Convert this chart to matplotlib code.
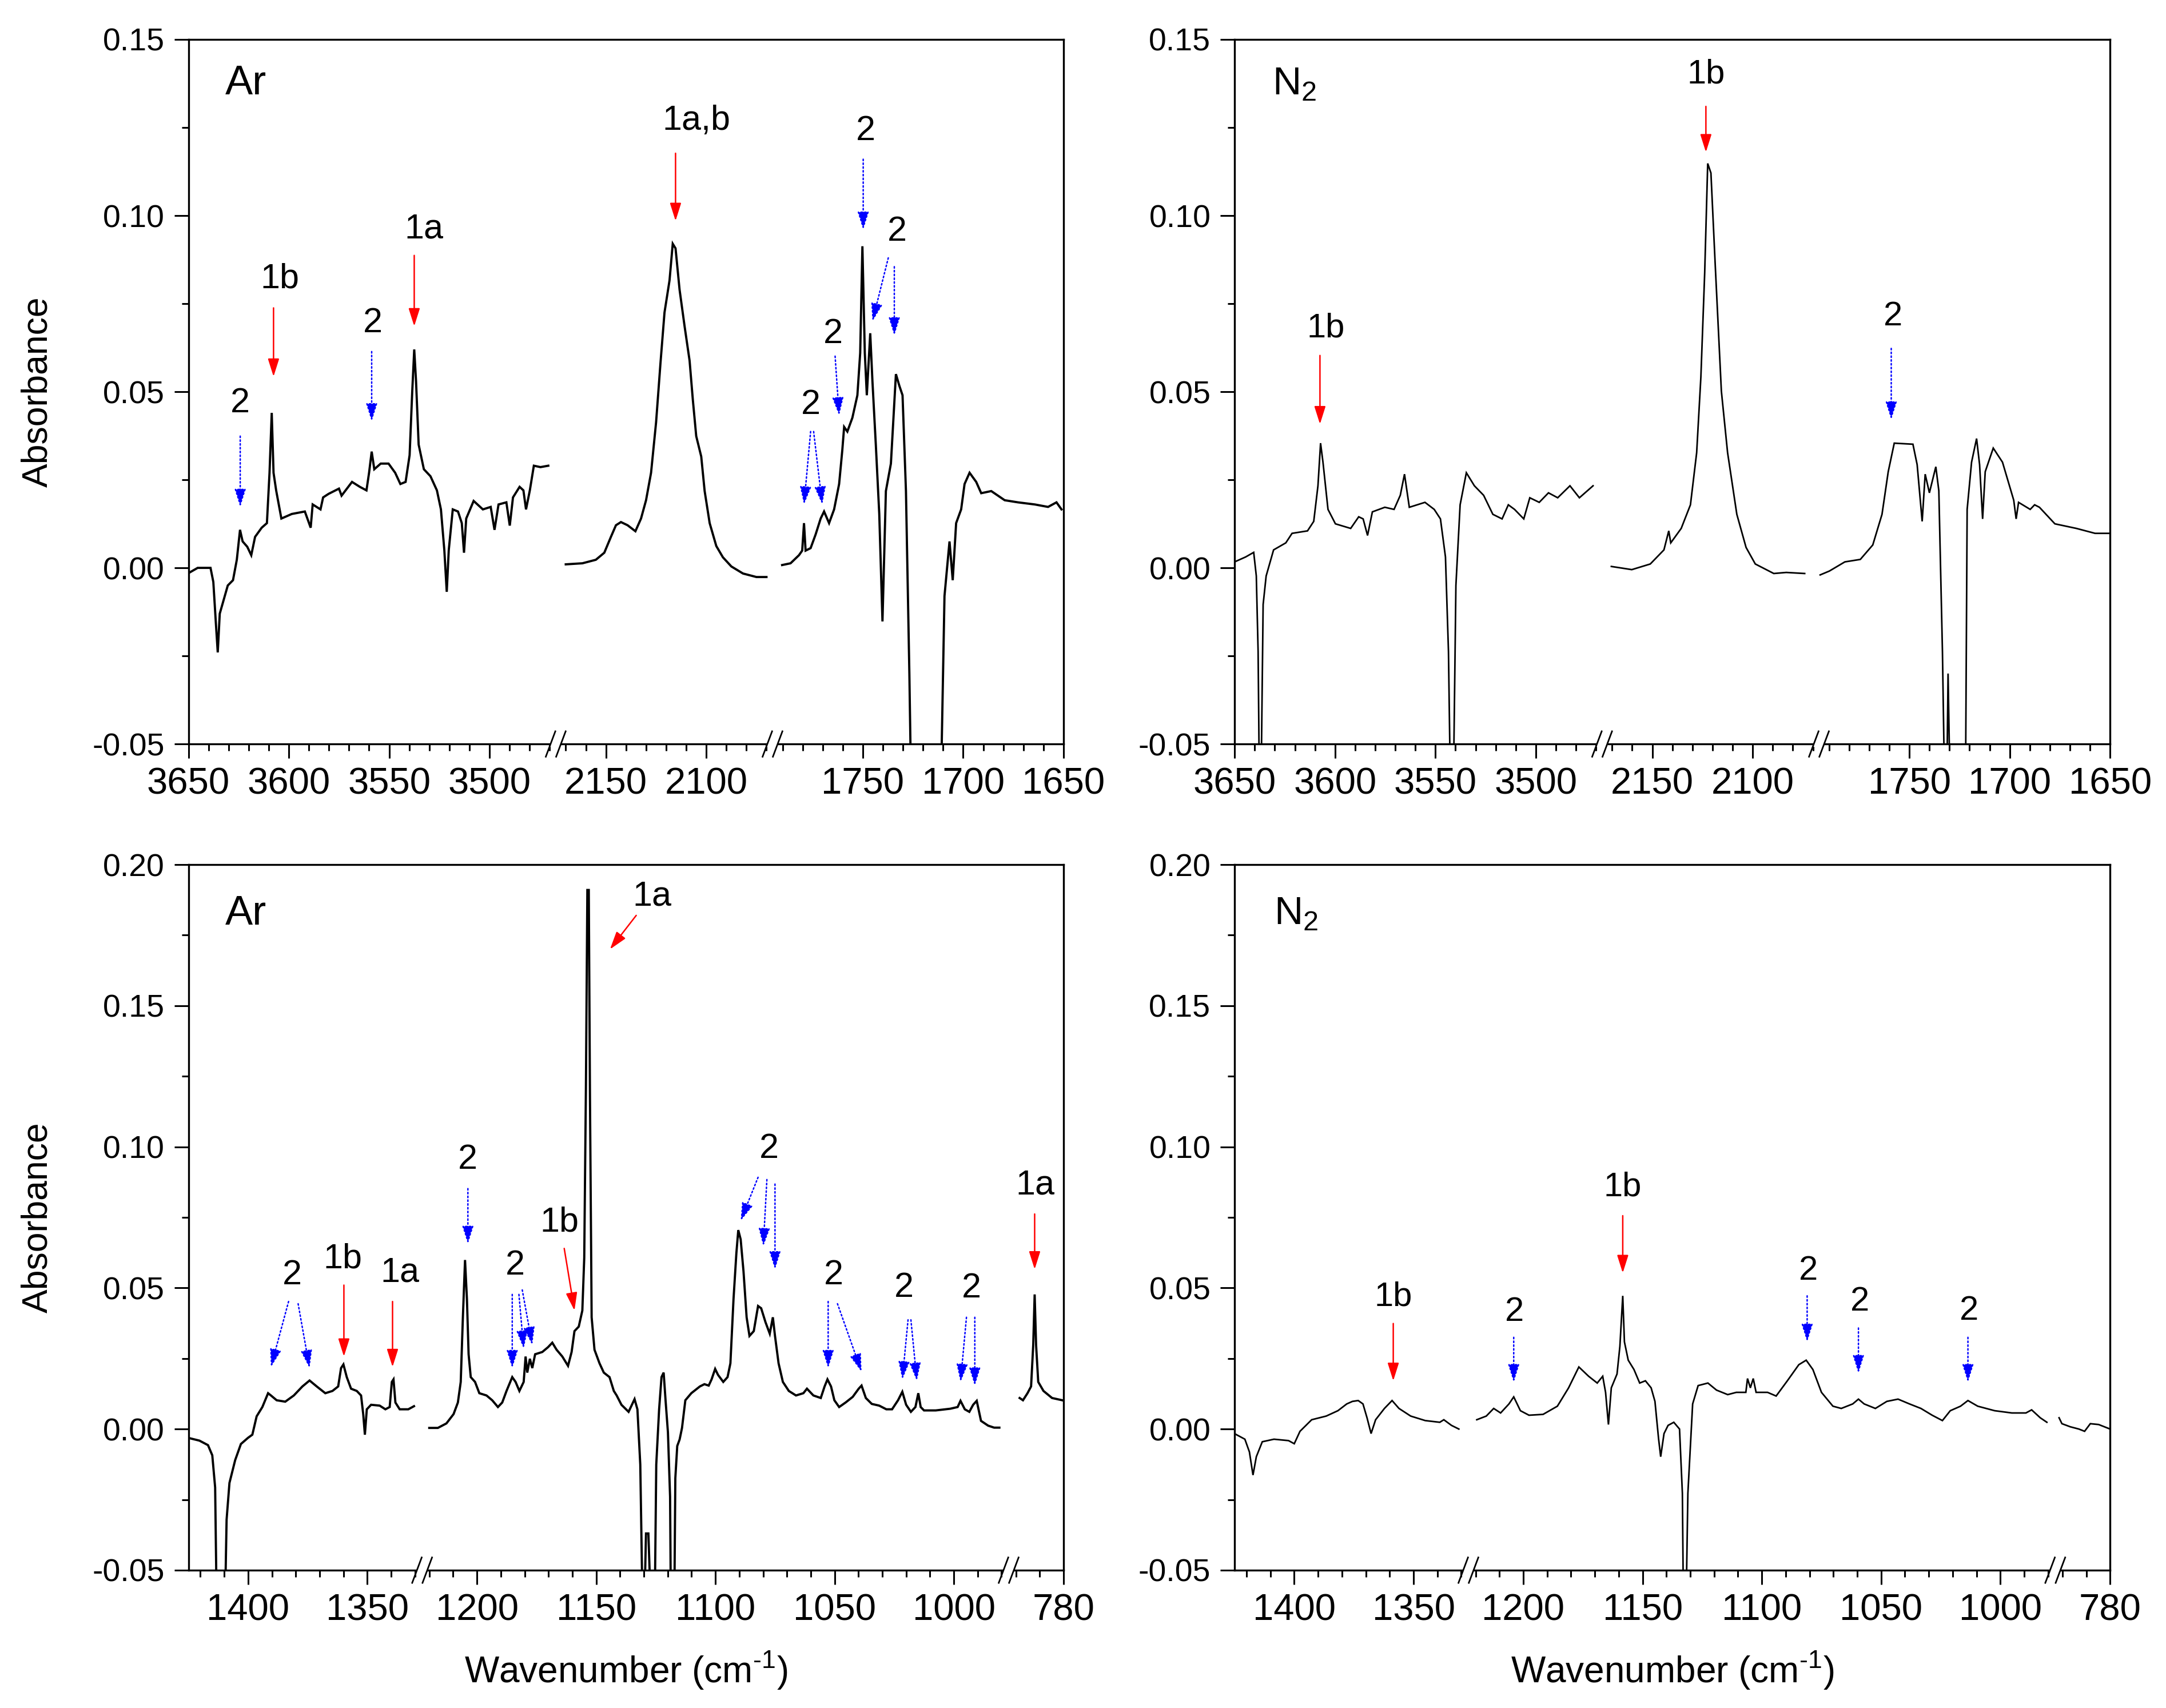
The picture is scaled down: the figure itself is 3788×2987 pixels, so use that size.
import numpy as np
import matplotlib
matplotlib.use('Agg')
import matplotlib.pyplot as plt
from matplotlib.ticker import FixedLocator, MultipleLocator, FormatStrFormatter

plt.rcParams['font.family'] = ['Liberation Sans', 'DejaVu Sans']
plt.rcParams['mathtext.fontset'] = 'custom'
plt.rcParams['mathtext.rm'] = 'Liberation Sans'
plt.rcParams['axes.unicode_minus'] = False

# --- broken x-axis segments (wavenumber, high -> low) ---
HI_SEGS = [(3650, 3467), (2175, 2067), (1795, 1650)]
LO_SEGS = [(1425, 1327), (1223, 977), (803, 780)]
HI_MAJOR = [3650, 3600, 3550, 3500, 2150, 2100, 1750, 1700, 1650]
LO_MAJOR = [1400, 1350, 1200, 1150, 1100, 1050, 1000, 780]

# --- Ar matrix, OH / C=O region (wavenumber, absorbance) ---
ar_hi_1 = [(3650, -0.0015), (3645.4, 0.0), (3639, 0.0), (3637.6, -0.004), (3636.3, -0.016),
           (3635.4, -0.024), (3634.4, -0.013), (3632.4, -0.009), (3630.4, -0.005), (3627.8, -0.0035),
           (3625.9, 0.0023), (3624.3, 0.0108), (3623.0, 0.0075), (3620.7, 0.006), (3618.7, 0.0036),
           (3616.8, 0.0088), (3613.5, 0.0114), (3610.9, 0.0127), (3609.6, 0.027), (3608.5, 0.044),
           (3607.6, 0.027), (3606.3, 0.022), (3603.7, 0.014), (3598.5, 0.0153), (3592.0, 0.016),
           (3589.1, 0.0114), (3588.1, 0.018), (3584.2, 0.0166), (3582.9, 0.020), (3580.2, 0.021),
           (3575.0, 0.0225), (3573.7, 0.0205), (3568.5, 0.0244), (3564.6, 0.023), (3561.3, 0.022),
           (3560.0, 0.027), (3558.7, 0.033), (3557.4, 0.028), (3554.2, 0.0296), (3550.3, 0.0296),
           (3547.0, 0.027), (3544.4, 0.0238), (3541.8, 0.0244), (3539.8, 0.032), (3538.5, 0.050),
           (3537.5, 0.062), (3536.6, 0.053), (3535.3, 0.035), (3532.7, 0.028), (3529.4, 0.026),
           (3526.2, 0.022), (3524.2, 0.0166), (3522.5, 0.005), (3521.3, -0.0068), (3520.3, 0.005),
           (3518.3, 0.0166), (3515.7, 0.016), (3513.8, 0.0127), (3512.7, 0.0043), (3511.6, 0.014),
           (3507.9, 0.019), (3503.3, 0.0166), (3499.4, 0.0173), (3497.5, 0.0108), (3495.5, 0.018),
           (3491.6, 0.0186), (3489.9, 0.012), (3488.3, 0.020), (3485.0, 0.023), (3483.1, 0.022),
           (3481.8, 0.0166), (3479.9, 0.022), (3477.9, 0.029), (3474.6, 0.0286), (3470.7, 0.029)]
ar_hi_2 = [(2170, 0.001), (2161.7, 0.0013), (2155, 0.0023), (2150.8, 0.0043), (2147.5, 0.0088),
           (2145, 0.0121), (2142.5, 0.013), (2139.2, 0.0121), (2135.3, 0.0104), (2132.5, 0.014),
           (2130, 0.0192), (2127.5, 0.027), (2125, 0.0413), (2122.8, 0.0582), (2120.8, 0.0725),
           (2118.3, 0.0816), (2116.7, 0.092), (2115.3, 0.0907), (2113.3, 0.079), (2110.8, 0.0686),
           (2108.3, 0.0588), (2106.7, 0.0478), (2105, 0.0374), (2102.5, 0.0316), (2100.8, 0.0218),
           (2098.3, 0.0127), (2095, 0.0062), (2091.7, 0.003), (2087.5, 0.0004), (2081.7, -0.0016),
           (2075, -0.0026), (2070, -0.0026)]
ar_hi_3 = [(1790.2, 0.0008), (1786, 0.0013), (1781.8, 0.0036), (1780.2, 0.0049), (1779.3, 0.0127),
           (1778.5, 0.0049), (1776, 0.0056), (1773.5, 0.0095), (1771, 0.014), (1769.3, 0.016),
           (1766.8, 0.0127), (1764.3, 0.0166), (1761.8, 0.0238), (1760.2, 0.0335), (1759.3, 0.040),
           (1757.7, 0.0387), (1755.2, 0.0426), (1752.7, 0.049), (1751.3, 0.061), (1750.2, 0.0913),
           (1749, 0.061), (1748, 0.049), (1746.3, 0.0666), (1745.2, 0.053), (1743.5, 0.0348),
           (1741.8, 0.0153), (1740.2, -0.0152), (1738.5, 0.0218), (1736, 0.0296), (1733.5, 0.055),
           (1731.8, 0.0517), (1730.2, 0.049), (1728.5, 0.0218), (1726.8, -0.030), (1726, -0.06),
           (1711, -0.06), (1709.3, -0.008), (1706.8, 0.0075), (1705.2, -0.0035), (1703.5, 0.0127),
           (1701, 0.0166), (1699.3, 0.0238), (1696.8, 0.027), (1693.5, 0.0244), (1691, 0.0212),
           (1686, 0.0218), (1679.3, 0.0192), (1672.7, 0.0186), (1664.3, 0.018), (1657.7, 0.0173),
           (1653.5, 0.0186), (1651, 0.0166)]

# --- N2 matrix, OH / C=O region ---
n2_hi_1 = [(3650, 0.0017), (3644.5, 0.0031), (3640.5, 0.0044), (3639.2, -0.0023), (3638.3, -0.0238),
           (3637.7, -0.06), (3636.8, -0.06), (3635.8, -0.0104), (3634.3, -0.0023), (3630.6, 0.0051),
           (3624.5, 0.0071), (3621.4, 0.0098), (3613.7, 0.0105), (3610.6, 0.0132), (3608.5, 0.0233),
           (3607.2, 0.0354), (3606, 0.030), (3603.5, 0.0166), (3599.8, 0.0125), (3592.2, 0.0112),
           (3588.2, 0.0145), (3586, 0.0139), (3583.8, 0.0092), (3581.4, 0.0159), (3575.2, 0.0172),
           (3570.6, 0.0166), (3567.5, 0.0206), (3565.4, 0.0266), (3563, 0.0172), (3555.2, 0.0186),
           (3550.6, 0.0166), (3547.5, 0.0139), (3545, 0.0031), (3543.5, -0.0238), (3542.6, -0.06),
           (3541, -0.06), (3539.8, -0.005), (3537.7, 0.0179), (3534.6, 0.027), (3530.6, 0.0233),
           (3526, 0.0206), (3521.4, 0.0152), (3516.8, 0.0139), (3513.7, 0.0179), (3510.6, 0.0166),
           (3506, 0.0139), (3503, 0.0199), (3498.3, 0.0186), (3493.7, 0.0213), (3489.1, 0.0199),
           (3483, 0.0233), (3478.3, 0.0199), (3471.5, 0.0233)]
n2_hi_2 = [(2170.4, 0.0004), (2160.2, -0.0005), (2151, 0.0011), (2144.2, 0.0051), (2141.8, 0.0105),
           (2140.8, 0.0071), (2135.6, 0.0112), (2131, 0.0179), (2127.9, 0.0327), (2125.8, 0.0542),
           (2123.9, 0.0838), (2122.4, 0.1148), (2120.8, 0.1121), (2118.7, 0.0865), (2115.6, 0.0502),
           (2112.5, 0.0327), (2107.9, 0.0152), (2103.3, 0.0058), (2098.7, 0.0011), (2089.5, -0.0016),
           (2083.3, -0.0013), (2074.1, -0.0016)]
n2_hi_3 = [(1794.4, -0.002), (1789.8, -0.0009), (1782.1, 0.0017), (1774.4, 0.0024), (1768.2, 0.0065),
           (1763.6, 0.0152), (1760.5, 0.0273), (1757.5, 0.0354), (1748.2, 0.0351), (1746.1, 0.0293),
           (1743.6, 0.0132), (1742.1, 0.0266), (1740, 0.0213), (1736.8, 0.0287), (1735.3, 0.0219),
           (1733.5, -0.0238), (1732.5, -0.06), (1731.3, -0.06), (1730.7, -0.03), (1729.8, -0.06),
           (1722, -0.06), (1721.2, 0.0166), (1719, 0.030), (1716.5, 0.0367), (1715, 0.0293),
           (1713.5, 0.0139), (1712.2, 0.0273), (1708.2, 0.034), (1703.6, 0.030), (1698, 0.0192),
           (1696.8, 0.0139), (1695.6, 0.0186), (1689.8, 0.0166), (1687.6, 0.0179), (1685.2, 0.0172),
           (1677.5, 0.0125), (1666.8, 0.0112), (1657.5, 0.0098), (1650, 0.0098)]

# --- Ar matrix, fingerprint region ---
ar_lo_1 = [(1425.2, -0.0031), (1420.4, -0.0041), (1416.8, -0.0057), (1415.0, -0.0093), (1413.8, -0.0207),
           (1413.2, -0.06), (1409.6, -0.06), (1409.0, -0.0321), (1407.8, -0.0191), (1405.4, -0.011),
           (1403.0, -0.0053), (1400.0, -0.0031), (1398.2, -0.002), (1396.4, 0.0045), (1394.0, 0.0078),
           (1391.6, 0.0127), (1390.4, 0.0119), (1388.0, 0.0102), (1384.4, 0.0097), (1380.8, 0.0119),
           (1377.2, 0.0151), (1374.2, 0.0172), (1371.2, 0.0151), (1367.6, 0.0127), (1364.6, 0.0135),
           (1362.2, 0.0151), (1361.0, 0.0216), (1360.0, 0.0229), (1358.6, 0.0184), (1356.8, 0.0143),
           (1354.4, 0.0135), (1352.6, 0.0119), (1351.7, 0.0053), (1351.0, -0.002), (1350.2, 0.007),
           (1348.4, 0.0086), (1344.8, 0.0083), (1342.4, 0.007), (1340.6, 0.0078), (1339.7, 0.0167),
           (1339.0, 0.0176), (1338.2, 0.0094), (1336.4, 0.007), (1332.8, 0.007), (1330.4, 0.0081)]
ar_lo_2 = [(1220.0, 0.0004), (1216.4, 0.0004), (1212.8, 0.002), (1209.8, 0.0053), (1208.0, 0.0094),
           (1206.8, 0.0167), (1205.9, 0.0396), (1205.0, 0.0599), (1204.2, 0.046), (1203.5, 0.0265),
           (1202.6, 0.0184), (1200.8, 0.0167), (1199.0, 0.0127), (1196.0, 0.0119), (1193.6, 0.0102),
           (1191.2, 0.0078), (1189.4, 0.0094), (1187.6, 0.0135), (1185.2, 0.0184), (1183.8, 0.0167),
           (1182.2, 0.0135), (1180.4, 0.0167), (1179.6, 0.0257), (1178.9, 0.020), (1177.8, 0.0249),
           (1176.8, 0.0216), (1175.6, 0.0265), (1172.6, 0.0273), (1170.2, 0.029), (1168.4, 0.0306),
           (1166.6, 0.0281), (1164.2, 0.0257), (1161.8, 0.0224), (1160.3, 0.0273), (1159.1, 0.0347),
           (1157.3, 0.0363), (1155.8, 0.042), (1155.0, 0.0607), (1154.3, 0.121), (1153.7, 0.191),
           (1153.1, 0.191), (1152.6, 0.1177), (1151.9, 0.0396), (1150.7, 0.0281), (1148.6, 0.0233),
           (1146.8, 0.020), (1144.4, 0.0184), (1142.6, 0.0135), (1141.4, 0.0119), (1139.4, 0.0086),
           (1136.4, 0.0061), (1133.9, 0.0106), (1132.7, 0.007), (1131.5, -0.0126), (1130.6, -0.06),
           (1129.7, -0.06), (1129.1, -0.037), (1128.1, -0.037), (1127.2, -0.06), (1125.4, -0.06),
           (1124.8, -0.0126), (1123.6, 0.007), (1122.6, 0.0184), (1121.7, 0.020), (1120.9, 0.0102),
           (1119.9, -0.0012), (1119.0, -0.024), (1118.7, -0.06), (1117.2, -0.06), (1116.8, -0.0174),
           (1116.0, -0.006), (1115.0, -0.0037), (1114.0, 0.0004), (1112.6, 0.0102), (1110.1, 0.0127),
           (1106.5, 0.0151), (1104.6, 0.0159), (1102.8, 0.0154), (1101.6, 0.0176), (1100.1, 0.0213),
           (1098.9, 0.0192), (1096.7, 0.0167), (1094.9, 0.0184), (1093.7, 0.0233), (1092.4, 0.046),
           (1091.2, 0.0623), (1090.4, 0.0705), (1089.4, 0.0672), (1088.2, 0.0558), (1086.9, 0.0396),
           (1085.7, 0.033), (1083.9, 0.0347), (1082.1, 0.0436), (1080.8, 0.0428), (1079.0, 0.0379),
           (1077.2, 0.0338), (1075.9, 0.0396), (1075.0, 0.033), (1073.5, 0.0233), (1071.7, 0.0167),
           (1069.2, 0.0135), (1066.2, 0.0119), (1063.1, 0.0127), (1061.6, 0.0143), (1058.9, 0.0119),
           (1055.8, 0.011), (1054.2, 0.0151), (1053.0, 0.0176), (1051.5, 0.0151), (1050.1, 0.0102),
           (1048.1, 0.0078), (1045.4, 0.0094), (1042.4, 0.0114), (1039.9, 0.0143), (1038.7, 0.0154),
           (1036.9, 0.011), (1034.4, 0.0089), (1031.3, 0.0083), (1028.3, 0.007), (1025.9, 0.007),
           (1023.4, 0.0102), (1021.6, 0.0132), (1020.0, 0.0086), (1018.0, 0.0061), (1016.1, 0.0078),
           (1014.9, 0.0127), (1013.9, 0.0078), (1012.5, 0.0066), (1007.6, 0.0066), (1001.5, 0.0072),
           (998.4, 0.0078), (997.2, 0.010), (995.4, 0.007), (993.5, 0.0061), (991.9, 0.0086),
           (990.4, 0.010), (988.6, 0.0029), (985.6, 0.0012), (983.1, 0.0005), (980.9, 0.0005)]
ar_lo_3 = [(798.4, 0.011), (797.0, 0.0102), (795.1, 0.0127), (793.6, 0.0151), (792.7, 0.0298),
           (792.1, 0.0477), (791.5, 0.0298), (790.6, 0.0167), (788.4, 0.0135), (784.8, 0.011),
           (780.5, 0.0102)]

# --- N2 matrix, fingerprint region ---
n2_lo_1 = [(1425.1, -0.0016), (1420.7, -0.0036), (1418.8, -0.0081), (1417.3, -0.0163), (1415.9, -0.0098),
           (1413.4, -0.0045), (1408.5, -0.0036), (1402.4, -0.0041), (1400.0, -0.0052), (1397.6, -0.0008),
           (1392.7, 0.0033), (1386.6, 0.0046), (1381.7, 0.0065), (1378.0, 0.0089), (1375.6, 0.0098),
           (1373.2, 0.0101), (1371.2, 0.0089), (1369.5, 0.004), (1367.8, -0.0016), (1365.9, 0.0033),
           (1362.2, 0.0073), (1359.0, 0.0101), (1356.1, 0.0073), (1351.2, 0.0046), (1345.1, 0.003),
           (1339.0, 0.0024), (1337.3, 0.0033), (1334.1, 0.0013), (1331.0, 0.0)]
n2_lo_2 = [(1219.5, 0.0033), (1215.5, 0.0046), (1212.4, 0.0073), (1209.5, 0.0057), (1206.0, 0.0089),
           (1204.0, 0.0114), (1201.2, 0.0065), (1197.6, 0.0049), (1191.7, 0.0052), (1185.7, 0.0081),
           (1181.0, 0.0146), (1176.7, 0.022), (1172.6, 0.0187), (1169.0, 0.0163), (1166.7, 0.0187),
           (1165.5, 0.013), (1164.3, 0.0016), (1163.1, 0.0146), (1160.7, 0.0195), (1159.5, 0.0293),
           (1158.3, 0.0472), (1157.6, 0.0309), (1156.0, 0.0244), (1153.6, 0.0211), (1151.2, 0.0163),
           (1148.8, 0.0171), (1146.4, 0.0146), (1144.8, 0.0098), (1143.3, -0.0033), (1142.4, -0.0098),
           (1141.0, -0.0016), (1139.3, 0.0013), (1136.9, 0.0024), (1134.5, 0.0), (1133.3, -0.0228),
           (1132.9, -0.06), (1131.7, -0.06), (1131.0, -0.0228), (1129.0, 0.0089), (1126.7, 0.0154),
           (1122.6, 0.0163), (1119.0, 0.0138), (1114.3, 0.0122), (1110.7, 0.013), (1106.7, 0.013),
           (1106.0, 0.0179), (1104.8, 0.0146), (1103.6, 0.0179), (1102.4, 0.013), (1097.6, 0.013),
           (1094.0, 0.0117), (1089.3, 0.0171), (1084.5, 0.0228), (1081.4, 0.0244), (1078.6, 0.0211),
           (1075.0, 0.013), (1070.2, 0.0081), (1066.7, 0.0073), (1061.9, 0.0089), (1059.5, 0.0106),
           (1057.1, 0.0089), (1052.4, 0.0073), (1047.6, 0.0098), (1042.9, 0.0106), (1038.1, 0.0089),
           (1033.3, 0.0073), (1028.6, 0.0049), (1024.3, 0.003), (1021.0, 0.0065), (1016.7, 0.0081),
           (1013.6, 0.0101), (1009.5, 0.0081), (1002.4, 0.0065), (995.2, 0.0057), (989.3, 0.0057),
           (986.9, 0.0068), (983.3, 0.004), (980.5, 0.0024)]
n2_lo_3 = [(801.4, 0.004), (800.2, 0.0019), (796.7, 0.0008), (793.1, 0.0), (790.7, -0.0008),
           (788.3, 0.0019), (784.8, 0.0016), (780.0, 0.0)]

# --- band labels (text, wavenumber, absorbance) ---
ar_hi_labels = [('2', 3624.2, 0.0478), ('1b', 3604.4, 0.083), ('2', 3558.1, 0.0705), ('1a', 3532.7, 0.0972),
                ('1a,b', 2105, 0.128), ('2', 1776, 0.0472), ('2', 1764.7, 0.0673), ('2', 1748.5, 0.125),
                ('2', 1733, 0.0965)]
n2_hi_labels = [('1b', 3604.5, 0.069), ('1b', 2123.3, 0.141), ('2', 1758, 0.0724)]
ar_lo_labels = [('2', 1381.4, 0.0558), ('1b', 1360.4, 0.0615), ('1a', 1336.4, 0.0566), ('2', 1203.8, 0.0966),
                ('2', 1184.0, 0.0591), ('1b', 1165.4, 0.0745), ('1a', 1126.6, 0.190), ('2', 1077.4, 0.1006),
                ('2', 1050.3, 0.0558), ('2', 1021.0, 0.0513), ('2', 992.6, 0.051), ('1a', 791.8, 0.0876)]
n2_lo_labels = [('1b', 1358.5, 0.048), ('2', 1203.6, 0.0426), ('1b', 1158.3, 0.087), ('2', 1080.5, 0.0572),
                ('2', 1058.8, 0.0463), ('2', 1013.1, 0.0431)]

# --- arrows (from wn, from A, to wn, to A, kind) r = species 1, b = species 2 ---
ar_hi_arrows = [(3624.2, 0.0374, 3624.2, 0.0173, 'b'), (3607.6, 0.0738, 3607.6, 0.0543, 'r'),
                (3558.7, 0.0614, 3558.7, 0.0416, 'b'), (3537.5, 0.0887, 3537.5, 0.0686, 'r'),
                (2115.3, 0.1177, 2115.3, 0.0985, 'r'), (1776.0, 0.0387, 1779.3, 0.018, 'b'),
                (1774.5, 0.0387, 1770.2, 0.018, 'b'), (1763.8, 0.0601, 1761.8, 0.0433, 'b'),
                (1749.8, 0.116, 1749.8, 0.096, 'b'), (1737.3, 0.088, 1745.2, 0.070, 'b'),
                (1734.3, 0.0855, 1734.3, 0.066, 'b')]
n2_hi_arrows = [(3607.5, 0.0603, 3607.5, 0.0408, 'r'), (2123.3, 0.131, 2123.3, 0.118, 'r'),
                (1759, 0.0623, 1759, 0.0421, 'b')]
ar_lo_arrows = [(1383, 0.0452, 1390.4, 0.022, 'b'), (1379, 0.0444, 1374.2, 0.0216, 'b'),
                (1359.8, 0.051, 1359.8, 0.0257, 'r'), (1339.4, 0.0452, 1339.4, 0.022, 'r'),
                (1203.8, 0.0852, 1203.8, 0.0656, 'b'), (1185.2, 0.0477, 1185.2, 0.0216, 'b'),
                (1182.4, 0.0477, 1180.4, 0.0285, 'b'), (1181.0, 0.0493, 1176.8, 0.0298, 'b'),
                (1163.4, 0.064, 1159.1, 0.042, 'r'), (1133.2, 0.182, 1144.2, 0.170, 'r'),
                (1082.1, 0.0892, 1089.4, 0.0738, 'b'), (1078.4, 0.0884, 1079.9, 0.0648, 'b'),
                (1075.0, 0.0868, 1075.0, 0.0566, 'b'), (1052.7, 0.0452, 1052.7, 0.0216, 'b'),
                (1048.8, 0.0444, 1038.7, 0.0203, 'b'), (1019.2, 0.0387, 1021.6, 0.0176, 'b'),
                (1018.0, 0.0387, 1015.5, 0.0171, 'b'), (994.7, 0.0396, 997.2, 0.0167, 'b'),
                (991.2, 0.0396, 991.2, 0.0154, 'b'), (792.1, 0.0762, 792.1, 0.0566, 'r')]
n2_lo_arrows = [(1358.5, 0.0374, 1358.5, 0.0171, 'r'), (1204, 0.0325, 1204, 0.0166, 'b'),
                (1158.3, 0.0756, 1158.3, 0.0553, 'r'), (1081, 0.0472, 1081, 0.0309, 'b'),
                (1059.5, 0.0358, 1059.5, 0.0198, 'b'), (1013.6, 0.0325, 1013.6, 0.0166, 'b')]


def broken_funcs(segs):
    # piecewise map wavenumber -> (negated) position along the axis, gaps collapse to a point
    wn_pts, u_pts = [], []
    off = 0.0
    for hi, lo in segs:
        wn_pts += [hi, lo]
        u_pts += [off, off + (hi - lo)]
        off += hi - lo
    wn_pts = [wn_pts[0] + 10000] + wn_pts + [wn_pts[-1] - 10000]
    u_pts = [u_pts[0] - 10000] + u_pts + [u_pts[-1] + 10000]
    wn_asc, u_desc = wn_pts[::-1], u_pts[::-1]

    def fwd(x):
        return -np.interp(np.asarray(x, float), wn_asc, u_desc)

    def inv(u):
        return np.interp(-np.asarray(u, float), u_pts, wn_pts)
    return fwd, inv


def draw_breaks(ax, segs, fwd):
    fig = ax.figure
    pos = ax.get_position()
    sx = 1 / 72 / (pos.width * fig.get_figwidth())
    sy = 1 / 72 / (pos.height * fig.get_figheight())
    u0, u1 = fwd(segs[0][0]), fwd(segs[-1][1])
    lean, sep, half, band = 6.0, 6.5, 16.0, 3.5
    for hi, lo in segs[:-1]:
        xf = (fwd(lo) - u0) / (u1 - u0)
        k = lean * band / half
        gx = [xf + (-sep - k) * sx, xf + (-sep + k) * sx, xf + (sep + k) * sx, xf + (sep - k) * sx]
        gy = [-band * sy, band * sy, band * sy, -band * sy]
        ax.fill(gx, gy, color='white', transform=ax.transAxes, clip_on=False, zorder=5, lw=0)
        for c in (-sep, sep):
            ax.plot([xf + (c - lean) * sx, xf + (c + lean) * sx], [-half * sy, half * sy],
                    transform=ax.transAxes, color='black', lw=2.0, clip_on=False, zorder=6)


def setup(ax, segs, majors, ytop):
    fwd, inv = broken_funcs(segs)
    ax.set_xscale('function', functions=(fwd, inv))
    ax.set_xlim(segs[0][0], segs[-1][1])
    ax.set_ylim(-0.05, ytop)
    minors = [v for hi, lo in segs for v in range(int(np.ceil(lo / 10.0)) * 10, hi + 1, 10)
              if v not in majors]
    ax.xaxis.set_major_locator(FixedLocator(majors))
    ax.xaxis.set_minor_locator(FixedLocator(minors))
    ax.set_xticklabels([str(m) for m in majors])
    ax.yaxis.set_major_locator(MultipleLocator(0.05))
    ax.yaxis.set_minor_locator(MultipleLocator(0.025))
    ax.yaxis.set_major_formatter(FormatStrFormatter('%.2f'))
    ax.tick_params(axis='both', which='major', direction='out', length=18, width=2.2,
                   top=False, right=False)
    ax.tick_params(axis='both', which='minor', direction='out', length=8.6, width=2.2,
                   top=False, right=False)
    ax.tick_params(axis='x', which='major', labelsize=47, pad=11)
    ax.tick_params(axis='y', which='major', labelsize=40, pad=12)
    for sp in ax.spines.values():
        sp.set_linewidth(2.4)
    draw_breaks(ax, segs, fwd)


def annotate(ax, labels, arrows, fs):
    for txt, x, y in labels:
        ax.text(x, y, txt, fontsize=fs, ha='center', va='center_baseline', zorder=7)
    for x0, y0, x1, y1, kind in arrows:
        col = 'red' if kind == 'r' else 'blue'
        ls = '-' if kind == 'r' else ':'
        ax.annotate('', xy=(x1, y1), xytext=(x0, y0),
                    arrowprops=dict(arrowstyle='-|>,head_length=1.9,head_width=0.6',
                                    mutation_scale=10, color=col, lw=1.8, linestyle=ls,
                                    shrinkA=0, shrinkB=0), zorder=7)


fig = plt.figure(figsize=(37.88, 29.87), dpi=100)
ax_tl = fig.add_axes([0.0870, 0.5644, 0.4040, 0.4125])
ax_tr = fig.add_axes([0.5700, 0.5644, 0.4042, 0.4125])
ax_bl = fig.add_axes([0.0870, 0.0807, 0.4040, 0.4131])
ax_br = fig.add_axes([0.5700, 0.0807, 0.4042, 0.4131])

setup(ax_tl, HI_SEGS, HI_MAJOR, 0.15)
setup(ax_tr, HI_SEGS, HI_MAJOR, 0.15)
setup(ax_bl, LO_SEGS, LO_MAJOR, 0.20)
setup(ax_br, LO_SEGS, LO_MAJOR, 0.20)

for ax, segments, lw in [(ax_tl, [ar_hi_1, ar_hi_2, ar_hi_3], 2.8),
                         (ax_tr, [n2_hi_1, n2_hi_2, n2_hi_3], 2.0),
                         (ax_bl, [ar_lo_1, ar_lo_2, ar_lo_3], 2.8),
                         (ax_br, [n2_lo_1, n2_lo_2, n2_lo_3], 2.0)]:
    for seg in segments:
        wn, a = zip(*seg)
        ax.plot(wn, a, color='black', lw=lw, solid_joinstyle='miter', zorder=3)

annotate(ax_tl, ar_hi_labels, ar_hi_arrows, 44)
annotate(ax_tr, n2_hi_labels, n2_hi_arrows, 43)
annotate(ax_bl, ar_lo_labels, ar_lo_arrows, 44)
annotate(ax_br, n2_lo_labels, n2_lo_arrows, 43)

ax_tl.text(0.042, 0.922, 'Ar', transform=ax_tl.transAxes, fontsize=52, va='baseline')
ax_bl.text(0.042, 0.915, 'Ar', transform=ax_bl.transAxes, fontsize=52, va='baseline')
ax_tr.text(0.043, 0.922, r'N$_\mathregular{2}$', transform=ax_tr.transAxes, fontsize=50, va='baseline')
ax_br.text(0.045, 0.915, r'N$_\mathregular{2}$', transform=ax_br.transAxes, fontsize=50, va='baseline')

for ax in (ax_tl, ax_bl):
    ax.set_ylabel('Absorbance', fontsize=45)
    ax.yaxis.set_label_coords(-0.153, 0.5)
for ax in (ax_bl, ax_br):
    ax.set_xlabel(r'Wavenumber (cm$^{\text{-1}}$)', fontsize=46)
    ax.xaxis.set_label_coords(0.5, -0.112)

fig.savefig('out.png', dpi=100)
